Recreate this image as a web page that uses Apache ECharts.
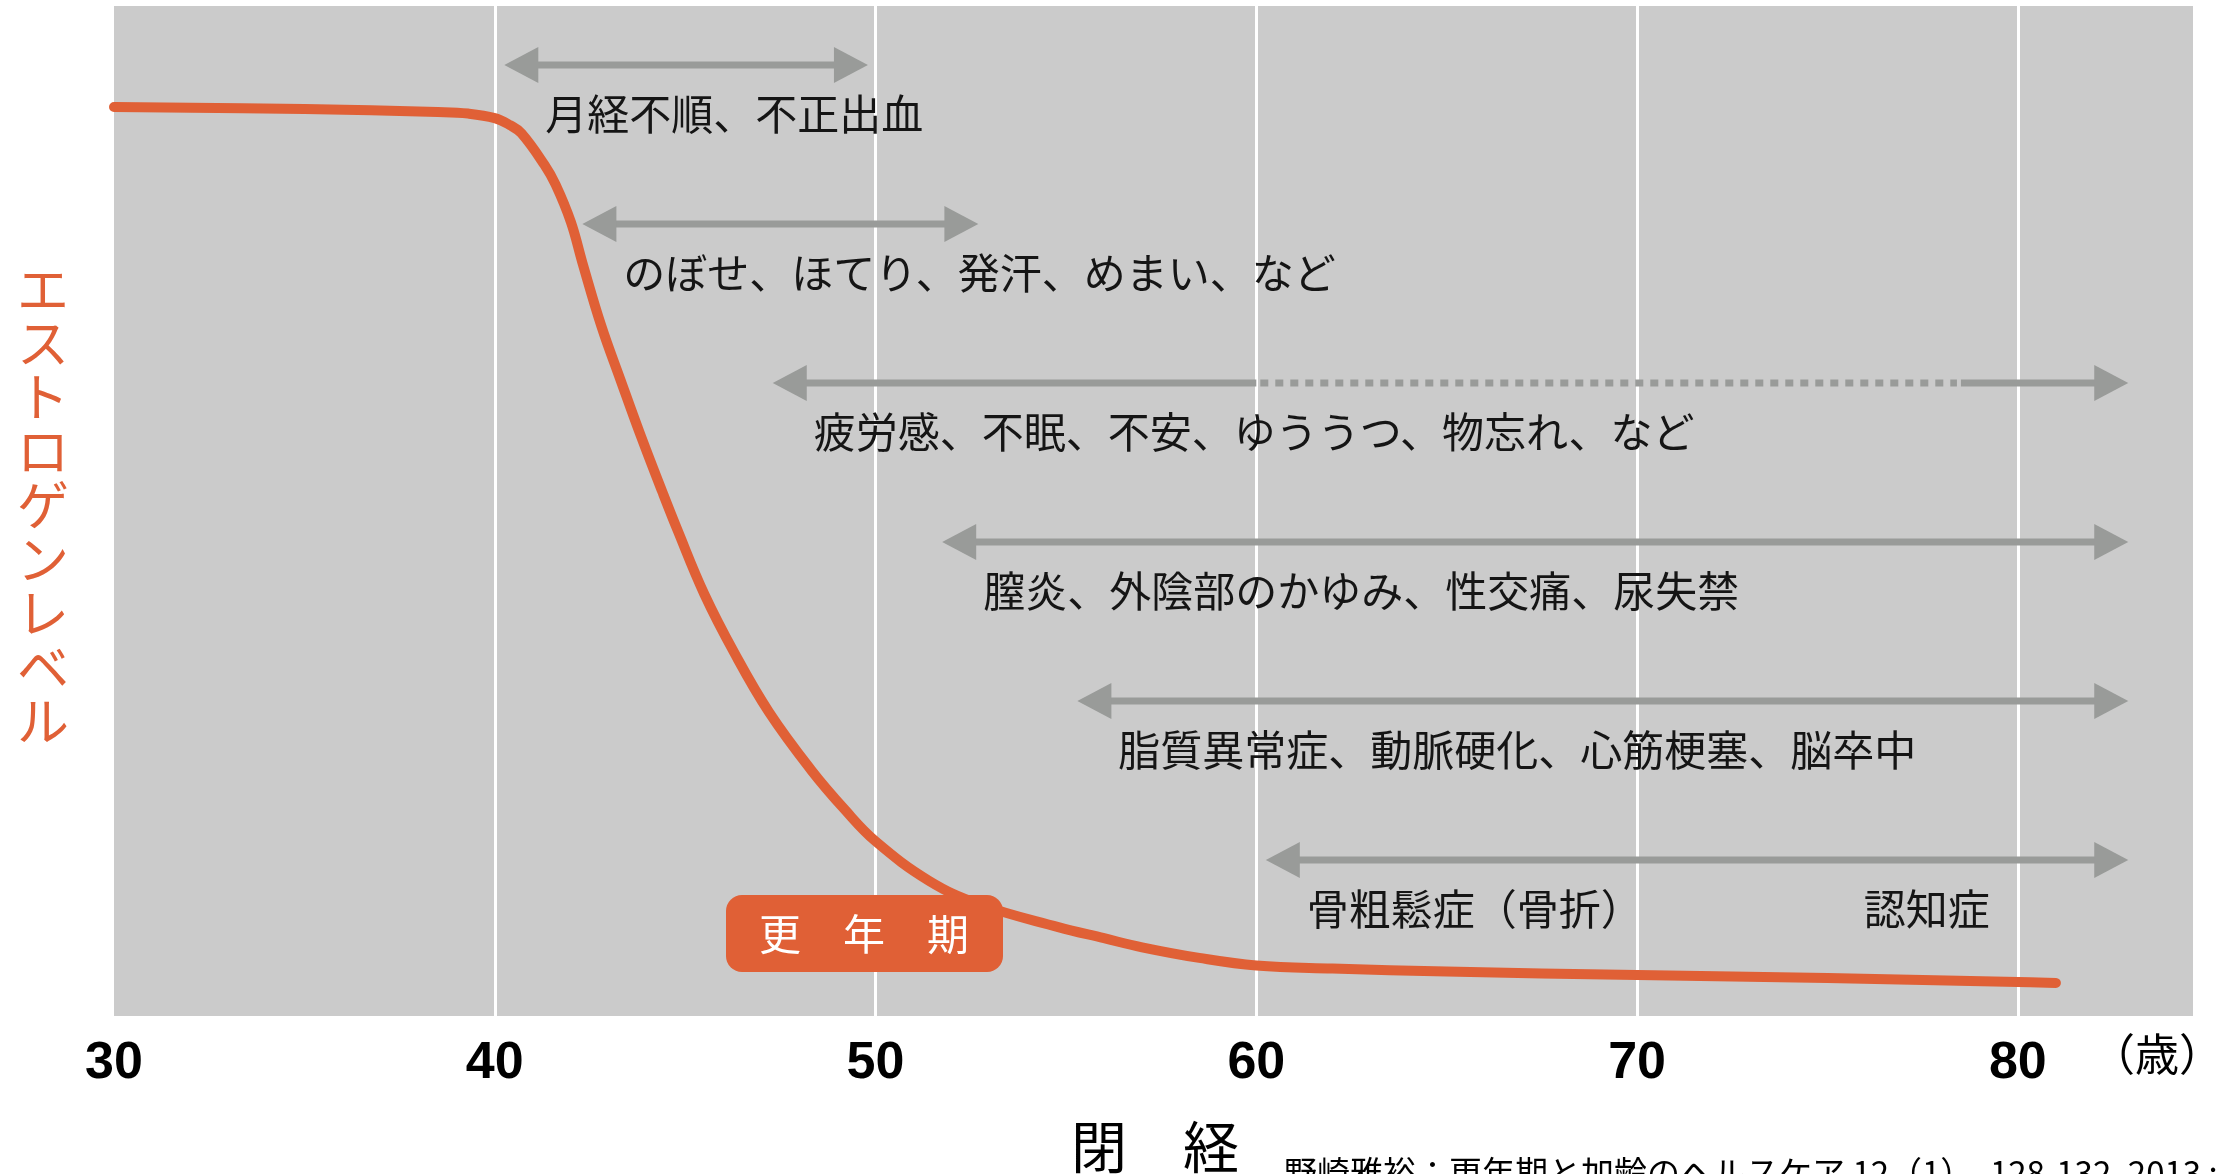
<!DOCTYPE html>
<html>
<head>
<meta charset="utf-8">
<script src="https://cdn.jsdelivr.net/npm/echarts@6/dist/echarts.min.js"></script>
<style>
  html, body { margin: 0; padding: 0; background: #fff; }
  #main { width: 2228px; height: 1174px; }
</style>
</head>
<body>
<div id="main"></div>
<script>
// エストロゲンレベルの推移（読み取り値）
var ages = [30, 35, 38.5, 39.3, 40, 40.4, 40.7, 41.3, 41.6, 42, 42.3, 42.8, 43.3, 43.8, 44.4, 44.8, 45.5, 46.3, 47.2, 48.3, 49.2, 50, 51.4, 52.7, 54.8, 56, 57, 58.5, 60, 62, 65, 70, 75, 80, 81];
var levels = [90.0, 89.8, 89.5, 89.35, 88.9, 88.2, 87.4, 84.3, 82.3, 78.6, 74.6, 68.3, 63.0, 57.8, 51.9, 48.1, 41.8, 35.9, 30.1, 24.4, 20.4, 17.3, 13.4, 11.1, 8.8, 7.7, 6.8, 5.75, 5.0, 4.7, 4.4, 4.06, 3.76, 3.37, 3.27];

var xTicks = [30, 40, 50, 60, 70, 80];

// 症状と出現する年齢の範囲
var symptomLabels = [
  '月経不順、不正出血',
  'のぼせ、ほてり、発汗、めまい、など',
  '疲労感、不眠、不安、ゆううつ、物忘れ、など',
  '膣炎、外陰部のかゆみ、性交痛、尿失禁',
  '脂質異常症、動脈硬化、心筋梗塞、脳卒中',
  '骨粗鬆症（骨折）'
];
var symptomStart = [40.25, 42.3, 47.3, 51.75, 55.3, 60.25];
var symptomEnd = [49.8, 52.7, 82.9, 82.9, 82.9, 82.9];
// 点線部分（3段目のみ）
var dottedFrom = [null, null, 60, null, null, null];
var dottedTo = [null, null, 78.4, null, null, null];
// 2つめのラベル（6段目の認知症）
var noteLabels = ['', '', '', '', '', '認知症'];
var noteAge = [null, null, null, null, null, 75.95];

var ORANGE = '#e06036';
var GRAY = '#999b99';
var JP = '"Noto Sans CJK JP", "Noto Sans", sans-serif';

var chart = echarts.init(document.getElementById('main'));

var arrowData = symptomLabels.map(function (t, i) {
  return [symptomStart[i], symptomEnd[i]];
});

chart.setOption({
  animation: false,
  grid: {
    left: 114, right: 35, top: 6, bottom: 158,
    show: true, backgroundColor: '#cbcbcb', borderWidth: 0
  },
  xAxis: {
    type: 'value',
    min: 30, max: 84.6, interval: 10,
    axisLine: { show: false },
    axisTick: { show: false },
    axisLabel: {
      showMaxLabel: false,
      margin: 22,
      fontSize: 52, fontWeight: 'bold', color: '#000',
      fontFamily: '"Liberation Sans", Arial, sans-serif',
      formatter: function (v) { return xTicks.indexOf(v) >= 0 ? String(v) : ''; }
    },
    splitLine: {
      show: true, showMinLine: false, showMaxLine: false,
      lineStyle: { color: '#ffffff', width: 3, type: 'solid' }
    }
  },
  yAxis: {
    type: 'value', min: 0, max: 100, show: false,
    splitLine: { show: false }
  },
  series: [
    {
      type: 'line',
      data: ages.map(function (a, i) { return [a, levels[i]]; }),
      smooth: 0.4,
      showSymbol: false,
      lineStyle: { color: ORANGE, width: 10, cap: 'round', join: 'round' },
      z: 3
    },
    {
      type: 'custom',
      data: arrowData,
      z: 4,
      renderItem: function (params, api) {
        var i = params.dataIndex;
        var x1 = api.coord([api.value(0), 0])[0];
        var x2 = api.coord([api.value(1), 0])[0];
        var y = params.coordSys.y + 59 + i * 159;
        var head = 34, half = 18, w = 7;
        var kids = [];
        var lineStyle = { stroke: GRAY, lineWidth: w };
        var s1 = x1 + head - 1, s2 = x2 - head + 1;
        if (dottedFrom[i] != null) {
          var d1 = api.coord([dottedFrom[i], 0])[0];
          var d2 = api.coord([dottedTo[i], 0])[0];
          kids.push({ type: 'line', shape: { x1: s1, y1: y, x2: d1, y2: y }, style: lineStyle });
          kids.push({ type: 'line', shape: { x1: d1 + 4, y1: y, x2: d2, y2: y },
            style: { stroke: GRAY, lineWidth: w, lineDash: [8, 7] } });
          kids.push({ type: 'line', shape: { x1: d2 + 4, y1: y, x2: s2, y2: y }, style: lineStyle });
        } else {
          kids.push({ type: 'line', shape: { x1: s1, y1: y, x2: s2, y2: y }, style: lineStyle });
        }
        kids.push({ type: 'polygon', shape: { points: [[x1, y], [x1 + head, y - half], [x1 + head, y + half]] }, style: { fill: GRAY } });
        kids.push({ type: 'polygon', shape: { points: [[x2, y], [x2 - head, y - half], [x2 - head, y + half]] }, style: { fill: GRAY } });
        kids.push({
          type: 'text',
          style: {
            text: symptomLabels[i], x: x1 + 41, y: y + 49,
            verticalAlign: 'middle', align: 'left',
            font: '42px ' + JP, fill: '#151515'
          }
        });
        if (noteAge[i] != null) {
          var xn = api.coord([noteAge[i], 0])[0];
          kids.push({
            type: 'text',
            style: {
              text: noteLabels[i], x: xn, y: y + 49,
              verticalAlign: 'middle', align: 'left',
              font: '42px ' + JP, fill: '#151515'
            }
          });
        }
        return { type: 'group', children: kids };
      }
    }
  ],
  graphic: [
    {
      type: 'text', left: 17, top: 262, z: 10,
      style: {
        text: 'エストロゲンレベル'.split('').join('\n'),
        font: '52px ' + JP, fill: ORANGE, lineHeight: 54, align: 'center'
      }
    },
    {
      type: 'rect', left: 726, top: 895, z: 10,
      shape: { width: 277, height: 77, r: 16 },
      style: { fill: ORANGE }
    },
    {
      type: 'text', z: 11,
      style: {
        text: '更　年　期', x: 864, y: 934, align: 'center', verticalAlign: 'middle',
        font: '42px ' + JP, fill: '#ffffff'
      }
    },
    {
      type: 'text', z: 10,
      style: {
        text: '（歳）', x: 2157, y: 1054, align: 'center', verticalAlign: 'middle',
        font: '44px ' + JP, fill: '#000'
      }
    },
    {
      type: 'text', z: 10,
      style: {
        text: '閉　経', x: 1155, y: 1147, align: 'center', verticalAlign: 'middle',
        font: '56px ' + JP, fill: '#000'
      }
    },
    {
      type: 'text', z: 10,
      style: {
        text: '野崎雅裕：更年期と加齢のヘルスケア 12（1）, 128-132, 2013 ;', x: 1284, y: 1156,
        align: 'left', verticalAlign: 'top',
        font: '33px ' + JP, fill: '#000'
      }
    }
  ]
});
</script>
</body>
</html>
